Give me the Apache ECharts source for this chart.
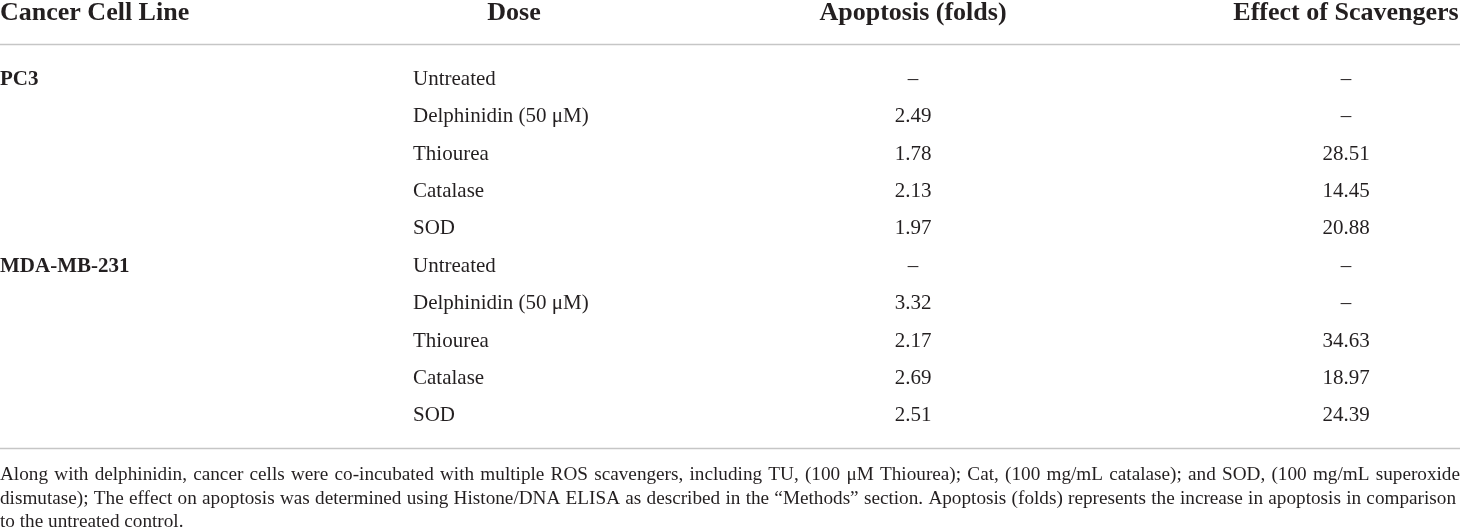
<!DOCTYPE html>
<html><head><meta charset="utf-8">
<script src="https://cdn.jsdelivr.net/npm/echarts@6/dist/echarts.min.js"></script>
<style>html,body{margin:0;padding:0;background:#fff}#c{width:1460px;height:530px}</style>
</head><body><div id="c"></div>
<script>
// ---- data ----
const headers = ['Cancer Cell Line', 'Dose', 'Apoptosis (folds)', 'Effect of Scavengers'];
const cellLines = ['PC3', 'MDA-MB-231'];
const doses = ['Untreated', 'Delphinidin (50 μM)', 'Thiourea', 'Catalase', 'SOD'];
const pc3Apoptosis = [null, 2.49, 1.78, 2.13, 1.97];
const pc3Scavengers = [null, null, 28.51, 14.45, 20.88];
const mdaApoptosis = [null, 3.32, 2.17, 2.69, 2.51];
const mdaScavengers = [null, null, 34.63, 18.97, 24.39];
const footnoteLines = [
  'Along with delphinidin, cancer cells were co-incubated with multiple ROS scavengers, including TU, (100 μM Thiourea); Cat, (100 mg/mL catalase); and SOD, (100 mg/mL superoxide',
  'dismutase); The effect on apoptosis was determined using Histone/DNA ELISA as described in the “Methods” section. Apoptosis (folds) represents the increase in apoptosis in comparison',
  'to the untreated control.'
];

// ---- layout / style ----
const W = 1460;
const FONT = '"Liberation Serif","Times New Roman",serif';
const INK = '#231f20';
const RULE = '#c6c6c6';
const colX = [0, 413, 913, 1346];
const colAlign = ['left', 'left', 'center', 'center'];
const headerX = [0, 514, 913, 1346];
const headerAlign = ['left', 'center', 'center', 'center'];
const headerY = 13;
const topRuleY = 44.5;
const bottomRuleY = 448.5;
const footY = [475, 499, 522];
const footWidth = [1460, 1456];

const groups = [
  { name: cellLines[0], apo: pc3Apoptosis, sc: pc3Scavengers },
  { name: cellLines[1], apo: mdaApoptosis, sc: mdaScavengers }
];
const fmt = v => (v == null ? '–' : v.toFixed(2));
const rowKeys = [];
const cells = [];
groups.forEach(g => {
  doses.forEach((d, di) => {
    const r = rowKeys.length;
    rowKeys.push(g.name + ' | ' + d);
    if (di === 0) cells.push({ c: 0, r, text: g.name, bold: true });
    cells.push({ c: 1, r, text: d });
    cells.push({ c: 2, r, text: fmt(g.apo[di]) });
    cells.push({ c: 3, r, text: fmt(g.sc[di]) });
  });
});

// ---- graphic: header, rules, footnote ----
const graphic = [];
headers.forEach((h, i) => {
  graphic.push({
    type: 'text', x: headerX[i], y: headerY,
    style: { text: h, fill: INK, font: 'bold 26px ' + FONT, textAlign: headerAlign[i], textVerticalAlign: 'middle' }
  });
});
[topRuleY, bottomRuleY].forEach(y => {
  graphic.push({ type: 'line', shape: { x1: 0, y1: y, x2: W, y2: y }, style: { stroke: RULE, lineWidth: 1.5 } });
});

const ctx = document.createElement('canvas').getContext('2d');
const fs = 19.5;
const footFont = fs + 'px ' + FONT;
ctx.font = footFont;
const maxNat = Math.max(...footnoteLines.slice(0, 2).map(l => ctx.measureText(l).width));
const sx = Math.min(1, 1445 / maxNat);
footnoteLines.forEach((line, i) => {
  const y = footY[i];
  if (i === footnoteLines.length - 1) {
    graphic.push({ type: 'text', x: 0, y, scaleX: sx, style: { text: line, fill: INK, font: footFont, textVerticalAlign: 'middle' } });
    return;
  }
  const words = line.split(' ');
  const ws = words.map(w => ctx.measureText(w).width * sx);
  const total = ws.reduce((a, b) => a + b, 0);
  const gap = (footWidth[i] - total) / (words.length - 1);
  let x = 0;
  words.forEach((w, k) => {
    graphic.push({ type: 'text', x, y, scaleX: sx, style: { text: w, fill: INK, font: footFont, textVerticalAlign: 'middle' } });
    x += ws[k] + gap;
  });
});

const chart = echarts.init(document.getElementById('c'));
chart.setOption({
  animation: false,
  backgroundColor: '#fff',
  grid: { left: 0, right: 0, top: 60.5, height: 374 },
  xAxis: { type: 'value', min: 0, max: W, show: false },
  yAxis: { type: 'category', data: rowKeys, inverse: true, show: false },
  graphic: graphic,
  series: [{
    type: 'custom',
    clip: false,
    data: cells.map(o => [colX[o.c], o.r]),
    renderItem: function (params, api) {
      const o = cells[params.dataIndex];
      const p = api.coord([api.value(0), api.value(1)]);
      return {
        type: 'text', x: p[0], y: p[1],
        style: {
          text: o.text, fill: INK,
          font: (o.bold ? 'bold ' : '') + '21px ' + FONT,
          textAlign: colAlign[o.c], textVerticalAlign: 'middle'
        }
      };
    }
  }]
});
</script></body></html>
